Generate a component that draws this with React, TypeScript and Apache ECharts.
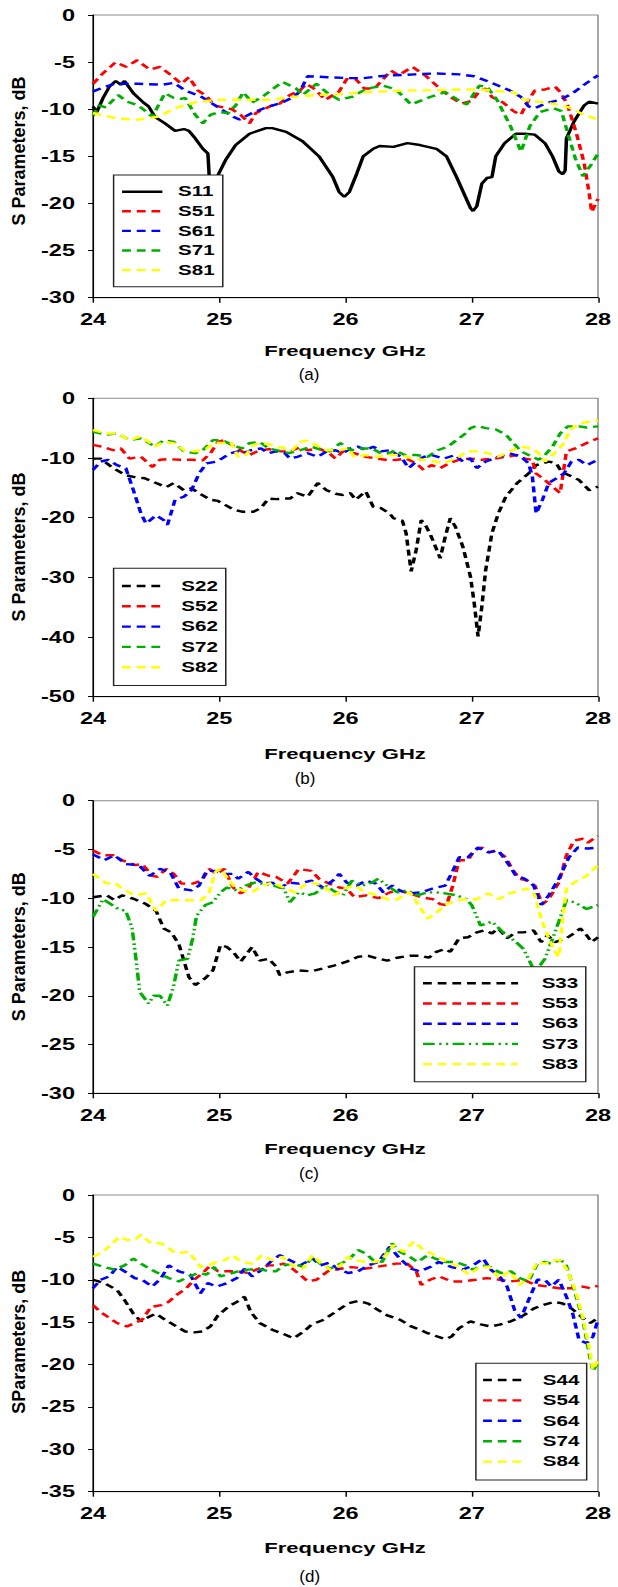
import React, { useEffect, useRef } from "react";
import * as echarts from "echarts";

type Pt = [number, number];

// ---------- DATA ----------
const freqTicks = [24, 25, 26, 27, 28];

// (a)
const s11: Pt[] = [[24.0,-9.7],[24.03,-10.3],[24.08,-8.8],[24.13,-7.6],[24.18,-7.0],[24.22,-7.4],[24.25,-7.0],[24.32,-8.3],[24.4,-9.3],[24.44,-9.7],[24.49,-10.8],[24.57,-11.5],[24.65,-12.3],[24.72,-12.1],[24.76,-12.3],[24.81,-13.1],[24.87,-14.2],[24.91,-14.7],[24.92,-17.0],[24.95,-19.0],[24.99,-17.0],[25.05,-15.4],[25.13,-13.8],[25.24,-12.6],[25.37,-12.0],[25.42,-12.0],[25.53,-12.4],[25.66,-13.4],[25.79,-15.0],[25.9,-17.2],[25.95,-18.8],[25.99,-19.3],[26.03,-18.8],[26.09,-16.8],[26.14,-15.0],[26.22,-14.2],[26.27,-13.9],[26.38,-14.0],[26.49,-13.6],[26.59,-13.8],[26.72,-14.2],[26.8,-15.0],[26.88,-17.2],[26.95,-19.3],[26.99,-20.5],[27.01,-20.8],[27.04,-20.3],[27.08,-17.9],[27.12,-17.3],[27.16,-17.2],[27.19,-15.0],[27.26,-13.6],[27.35,-12.6],[27.42,-12.6],[27.5,-12.7],[27.58,-13.6],[27.64,-15.0],[27.69,-16.6],[27.72,-16.9],[27.74,-16.5],[27.75,-13.1],[27.81,-11.3],[27.89,-9.6],[27.93,-9.2],[28.0,-9.4]];
const s51: Pt[] = [[24.0,-7.3],[24.07,-6.3],[24.18,-5.0],[24.26,-5.5],[24.35,-4.8],[24.45,-5.8],[24.53,-5.5],[24.62,-6.4],[24.7,-7.3],[24.76,-6.6],[24.83,-8.0],[24.9,-8.6],[24.96,-9.6],[25.03,-9.8],[25.1,-10.0],[25.17,-10.6],[25.24,-11.5],[25.29,-10.4],[25.4,-9.7],[25.48,-9.4],[25.56,-8.5],[25.64,-8.0],[25.69,-7.3],[25.76,-7.9],[25.84,-9.0],[25.95,-8.1],[26.01,-6.8],[26.08,-6.8],[26.15,-7.8],[26.23,-7.8],[26.36,-5.9],[26.42,-6.4],[26.53,-5.5],[26.64,-6.5],[26.73,-7.6],[26.83,-8.7],[26.92,-9.4],[27.0,-9.1],[27.06,-8.1],[27.11,-7.8],[27.16,-8.7],[27.25,-9.3],[27.33,-10.2],[27.39,-10.6],[27.45,-9.0],[27.5,-8.0],[27.58,-7.9],[27.66,-7.6],[27.71,-8.3],[27.76,-9.6],[27.83,-12.6],[27.89,-15.7],[27.93,-18.9],[27.95,-20.9],[28.0,-19.5]];
const s61: Pt[] = [[24.0,-8.1],[24.08,-7.7],[24.17,-7.3],[24.36,-7.3],[24.55,-7.4],[24.64,-7.2],[24.73,-8.0],[24.86,-8.7],[24.98,-9.7],[25.11,-10.8],[25.16,-11.1],[25.26,-10.4],[25.39,-9.7],[25.48,-9.4],[25.59,-8.7],[25.64,-8.1],[25.7,-6.5],[25.86,-6.6],[26.02,-6.7],[26.14,-6.7],[26.27,-6.5],[26.39,-6.4],[26.55,-6.3],[26.71,-6.2],[26.9,-6.3],[27.02,-6.5],[27.14,-7.1],[27.3,-8.0],[27.39,-8.7],[27.45,-9.7],[27.5,-9.9],[27.58,-9.4],[27.7,-9.0],[27.8,-8.3],[27.89,-7.4],[28.0,-6.4]];
const s71: Pt[] = [[24.0,-10.7],[24.05,-9.6],[24.1,-9.8],[24.2,-8.5],[24.27,-9.2],[24.36,-9.6],[24.47,-10.8],[24.57,-8.3],[24.64,-8.8],[24.7,-8.9],[24.73,-8.8],[24.81,-10.6],[24.87,-11.5],[24.93,-10.6],[25.0,-10.3],[25.07,-10.4],[25.13,-9.6],[25.19,-8.2],[25.26,-9.3],[25.35,-8.6],[25.5,-7.1],[25.61,-7.8],[25.66,-8.5],[25.77,-7.3],[25.86,-8.3],[25.95,-9.0],[26.05,-8.7],[26.17,-7.8],[26.3,-7.5],[26.4,-7.9],[26.52,-9.5],[26.67,-8.7],[26.79,-8.2],[26.89,-9.0],[26.96,-9.5],[27.06,-7.5],[27.12,-7.6],[27.2,-9.0],[27.31,-11.9],[27.39,-14.5],[27.46,-11.8],[27.54,-10.3],[27.65,-9.9],[27.71,-10.2],[27.76,-12.5],[27.82,-15.2],[27.88,-17.1],[27.94,-16.0],[28.0,-14.7]];
const s81: Pt[] = [[24.0,-10.4],[24.2,-11.0],[24.36,-11.1],[24.51,-10.8],[24.67,-9.8],[24.83,-9.2],[25.01,-9.0],[25.2,-9.0],[25.39,-9.0],[25.58,-8.7],[25.76,-8.5],[25.95,-8.4],[26.14,-8.2],[26.33,-8.1],[26.51,-8.0],[26.7,-8.0],[26.89,-7.9],[27.08,-7.9],[27.24,-8.1],[27.33,-8.2],[27.42,-9.0],[27.52,-9.2],[27.64,-9.4],[27.77,-9.8],[27.89,-10.6],[28.0,-11.1]];

// (b)
const s22: Pt[] = [[24,-10.1],[24.06,-10.1],[24.16,-11.7],[24.26,-12.9],[24.33,-13.2],[24.41,-13.4],[24.5,-14.2],[24.58,-14.9],[24.64,-14.2],[24.72,-15.4],[24.78,-15.1],[24.84,-15.9],[24.93,-17.0],[24.99,-17.2],[25.05,-17.9],[25.12,-18.7],[25.18,-19.0],[25.27,-19.0],[25.33,-18.4],[25.39,-16.8],[25.45,-16.9],[25.52,-16.8],[25.56,-16.8],[25.62,-15.9],[25.7,-16.5],[25.78,-14.2],[25.85,-15.4],[25.92,-16.0],[25.98,-16.2],[26.04,-15.9],[26.08,-17.0],[26.16,-15.6],[26.22,-18.2],[26.28,-18.4],[26.35,-19.3],[26.38,-20.1],[26.45,-20.5],[26.48,-22.6],[26.52,-29.0],[26.56,-25.4],[26.6,-20.4],[26.64,-21.5],[26.68,-23.2],[26.75,-26.8],[26.79,-23.2],[26.83,-20.1],[26.87,-21.5],[26.93,-24.9],[26.99,-29.9],[27.02,-34.4],[27.05,-39.9],[27.08,-34.9],[27.11,-28.8],[27.16,-22.6],[27.21,-19.3],[27.27,-16.5],[27.36,-14.2],[27.45,-12.6],[27.51,-11.2],[27.61,-10.6],[27.67,-10.9],[27.71,-12.3],[27.79,-13.1],[27.85,-13.7],[27.93,-15.4],[28,-14.8]];
const s52: Pt[] = [[24,-7.8],[24.07,-8.1],[24.16,-8.7],[24.22,-8.4],[24.29,-10.1],[24.38,-9.8],[24.47,-11.5],[24.53,-10.3],[24.59,-10.2],[24.69,-10.3],[24.78,-10.3],[24.87,-10.4],[24.93,-9.2],[24.99,-7.3],[25.04,-7.0],[25.12,-8.1],[25.18,-8.9],[25.24,-9.5],[25.3,-8.9],[25.39,-8.5],[25.49,-8.9],[25.56,-8.9],[25.64,-8.2],[25.7,-8.7],[25.79,-8.4],[25.87,-9.2],[25.92,-10.1],[25.98,-8.9],[26.07,-9.2],[26.16,-9.8],[26.25,-10.1],[26.35,-10.4],[26.41,-10.3],[26.48,-10.1],[26.56,-10.9],[26.62,-12.0],[26.68,-11.2],[26.75,-11.7],[26.82,-10.9],[26.9,-10.3],[26.99,-10.1],[27.08,-10.3],[27.18,-10.1],[27.27,-9.8],[27.36,-9.5],[27.42,-10.1],[27.48,-10.3],[27.51,-12.6],[27.58,-13.7],[27.64,-14.8],[27.7,-15.9],[27.75,-8.9],[27.82,-8.4],[27.91,-7.5],[28,-6.7]];
const s62: Pt[] = [[24,-12.0],[24.06,-10.6],[24.12,-10.3],[24.19,-11.2],[24.26,-11.7],[24.32,-15.4],[24.38,-19.3],[24.42,-21.0],[24.5,-19.6],[24.56,-20.4],[24.59,-21.2],[24.65,-17.0],[24.72,-16.5],[24.78,-15.4],[24.84,-12.6],[24.9,-10.9],[24.98,-10.6],[25.02,-10.1],[25.09,-9.2],[25.15,-8.9],[25.19,-9.2],[25.25,-8.7],[25.33,-8.4],[25.39,-9.2],[25.45,-8.9],[25.52,-9.2],[25.56,-10.1],[25.62,-9.8],[25.7,-9.2],[25.78,-9.8],[25.85,-8.9],[25.92,-8.7],[25.98,-9.2],[26.04,-8.4],[26.1,-8.1],[26.16,-8.7],[26.22,-8.1],[26.28,-8.9],[26.35,-8.7],[26.44,-9.8],[26.5,-11.7],[26.56,-10.6],[26.62,-9.8],[26.68,-9.5],[26.78,-10.1],[26.87,-9.5],[26.93,-10.6],[26.99,-10.1],[27.04,-11.7],[27.11,-10.6],[27.21,-9.8],[27.3,-9.2],[27.39,-9.8],[27.45,-10.9],[27.48,-13.1],[27.51,-19.3],[27.56,-17.0],[27.61,-14.2],[27.67,-13.4],[27.73,-12.6],[27.79,-10.6],[27.85,-10.3],[27.91,-11.2],[28,-10.3]];
const s72: Pt[] = [[24,-5.6],[24.1,-6.1],[24.19,-5.9],[24.29,-7.0],[24.38,-6.7],[24.49,-8.1],[24.56,-7.0],[24.64,-7.3],[24.72,-8.9],[24.81,-9.2],[24.87,-8.7],[24.95,-7.0],[25.02,-7.0],[25.1,-7.8],[25.18,-8.4],[25.24,-7.5],[25.32,-7.3],[25.39,-8.4],[25.49,-8.9],[25.55,-9.2],[25.64,-8.7],[25.73,-8.1],[25.82,-8.7],[25.88,-8.9],[25.96,-7.5],[26.04,-8.7],[26.12,-8.4],[26.21,-8.4],[26.28,-9.2],[26.35,-9.2],[26.39,-8.7],[26.47,-9.5],[26.56,-9.5],[26.65,-9.8],[26.73,-8.7],[26.81,-8.1],[26.88,-7.0],[26.95,-5.9],[26.99,-5.0],[27.04,-4.6],[27.11,-5.0],[27.19,-5.2],[27.27,-6.1],[27.33,-7.5],[27.39,-8.9],[27.45,-9.5],[27.53,-10.3],[27.58,-9.5],[27.64,-8.1],[27.7,-5.9],[27.76,-4.7],[27.85,-4.7],[27.91,-4.9],[28,-4.7]];
const s82: Pt[] = [[24,-5.3],[24.1,-5.9],[24.19,-5.9],[24.29,-7.0],[24.38,-6.4],[24.49,-8.1],[24.56,-7.3],[24.64,-7.5],[24.72,-8.7],[24.81,-8.9],[24.9,-8.4],[24.96,-7.5],[25.02,-7.5],[25.09,-7.3],[25.15,-9.8],[25.21,-9.5],[25.27,-7.8],[25.33,-7.5],[25.42,-7.8],[25.52,-8.4],[25.58,-8.7],[25.64,-7.3],[25.7,-7.1],[25.76,-7.8],[25.85,-8.7],[25.95,-8.7],[26.02,-8.4],[26.07,-9.8],[26.16,-9.5],[26.25,-9.8],[26.35,-9.5],[26.44,-9.5],[26.53,-10.1],[26.62,-10.3],[26.71,-10.6],[26.78,-10.9],[26.84,-10.3],[26.9,-9.8],[26.96,-8.9],[27.04,-8.9],[27.13,-9.2],[27.21,-9.8],[27.3,-8.9],[27.39,-8.1],[27.48,-8.4],[27.53,-9.2],[27.58,-10.6],[27.64,-9.5],[27.72,-7.8],[27.78,-5.3],[27.85,-4.2],[27.94,-3.9],[28,-3.7]];

// (c)
const s33: Pt[] = [[24,-9.9],[24.11,-9.7],[24.17,-10.2],[24.23,-9.7],[24.33,-10.1],[24.42,-10.6],[24.5,-11.3],[24.56,-13.1],[24.62,-13.5],[24.68,-14.7],[24.76,-18.1],[24.81,-18.9],[24.89,-18.2],[24.95,-17.4],[25.01,-14.8],[25.06,-15.0],[25.11,-15.5],[25.17,-16.5],[25.23,-15.5],[25.26,-15.0],[25.32,-16.4],[25.39,-16.2],[25.45,-17.0],[25.48,-17.9],[25.54,-17.6],[25.63,-17.4],[25.73,-17.5],[25.82,-17.2],[25.91,-16.9],[26.01,-16.5],[26.1,-16.0],[26.18,-15.9],[26.26,-16.2],[26.33,-16.4],[26.41,-16.1],[26.51,-15.9],[26.6,-15.9],[26.66,-16.1],[26.72,-15.5],[26.79,-15.2],[26.83,-15.5],[26.9,-14.1],[26.97,-14.0],[27.04,-13.5],[27.1,-13.3],[27.16,-13.6],[27.21,-13.1],[27.28,-14.1],[27.35,-13.5],[27.41,-13.5],[27.49,-13.3],[27.55,-14.5],[27.6,-13.8],[27.66,-14.5],[27.75,-14.1],[27.81,-13.6],[27.86,-13.1],[27.91,-13.8],[27.95,-14.5],[28,-14.0]];
const s53: Pt[] = [[24,-5.1],[24.08,-5.6],[24.16,-5.6],[24.23,-6.1],[24.33,-6.6],[24.39,-6.5],[24.47,-7.7],[24.51,-7.8],[24.58,-7.0],[24.64,-7.5],[24.7,-8.5],[24.79,-8.5],[24.86,-8.2],[24.92,-7.0],[24.98,-7.5],[25.04,-7.0],[25.11,-8.9],[25.17,-9.5],[25.23,-9.0],[25.31,-7.3],[25.39,-7.7],[25.45,-7.8],[25.54,-8.5],[25.59,-7.7],[25.63,-7.0],[25.73,-7.2],[25.79,-8.0],[25.87,-8.5],[25.95,-8.9],[26.01,-9.0],[26.07,-9.9],[26.16,-9.7],[26.26,-10.0],[26.35,-9.4],[26.41,-9.2],[26.51,-9.5],[26.6,-9.9],[26.69,-10.1],[26.75,-10.6],[26.8,-10.7],[26.85,-8.7],[26.9,-6.1],[26.97,-6.1],[27.02,-5.1],[27.08,-4.8],[27.14,-5.3],[27.19,-5.1],[27.27,-5.8],[27.32,-7.0],[27.38,-8.0],[27.44,-8.2],[27.5,-8.7],[27.56,-10.6],[27.61,-10.1],[27.69,-8.4],[27.75,-5.6],[27.81,-4.1],[27.88,-3.9],[27.92,-4.3],[28,-3.6]];
const s63: Pt[] = [[24,-5.5],[24.09,-6.1],[24.17,-5.6],[24.26,-6.5],[24.36,-6.6],[24.45,-7.7],[24.53,-7.0],[24.61,-7.3],[24.68,-9.0],[24.78,-9.2],[24.84,-8.7],[24.9,-7.2],[24.96,-7.2],[25.04,-7.5],[25.11,-7.5],[25.15,-8.0],[25.23,-7.3],[25.29,-8.0],[25.35,-8.5],[25.42,-8.4],[25.48,-8.9],[25.56,-8.4],[25.63,-8.5],[25.73,-8.2],[25.82,-8.9],[25.9,-8.2],[25.95,-7.5],[26.01,-8.4],[26.09,-8.7],[26.16,-8.2],[26.24,-8.5],[26.3,-9.4],[26.37,-8.7],[26.43,-9.2],[26.51,-9.5],[26.6,-9.4],[26.69,-9.0],[26.79,-8.7],[26.85,-7.2],[26.9,-5.8],[26.97,-5.8],[27.05,-4.8],[27.13,-5.3],[27.21,-5.1],[27.28,-6.3],[27.35,-7.7],[27.42,-8.0],[27.49,-8.7],[27.55,-10.7],[27.61,-9.7],[27.69,-8.0],[27.77,-5.8],[27.84,-4.8],[27.92,-4.9],[28,-4.8]];
const s73: Pt[] = [[24,-11.9],[24.08,-10.1],[24.2,-11.1],[24.26,-11.3],[24.31,-13.1],[24.34,-16.2],[24.37,-19.6],[24.44,-20.8],[24.48,-20.0],[24.53,-20.0],[24.59,-21.0],[24.64,-18.9],[24.68,-16.4],[24.75,-16.2],[24.79,-14.1],[24.82,-11.8],[24.89,-10.7],[24.95,-10.4],[25.01,-9.4],[25.06,-8.9],[25.14,-9.2],[25.21,-8.7],[25.28,-8.4],[25.35,-8.5],[25.43,-8.7],[25.51,-9.0],[25.56,-10.4],[25.63,-9.4],[25.7,-9.7],[25.76,-9.5],[25.84,-8.7],[25.9,-9.2],[25.98,-9.7],[26.05,-8.2],[26.13,-8.7],[26.21,-8.4],[26.26,-8.0],[26.33,-8.7],[26.41,-9.4],[26.49,-9.2],[26.57,-9.7],[26.65,-9.4],[26.72,-9.4],[26.79,-9.5],[26.88,-9.7],[26.96,-10.1],[27.0,-10.7],[27.07,-12.8],[27.16,-12.4],[27.25,-13.5],[27.35,-14.5],[27.41,-15.2],[27.46,-16.5],[27.5,-17.6],[27.58,-16.2],[27.63,-14.5],[27.69,-12.4],[27.75,-10.2],[27.81,-10.4],[27.91,-11.1],[28,-10.7]];
const s83: Pt[] = [[24,-7.5],[24.11,-8.5],[24.17,-8.4],[24.23,-9.0],[24.33,-9.7],[24.42,-9.5],[24.5,-11.3],[24.58,-10.2],[24.67,-10.2],[24.76,-10.2],[24.86,-10.2],[24.92,-9.4],[24.97,-7.3],[25.01,-7.0],[25.11,-8.7],[25.18,-9.2],[25.26,-9.4],[25.34,-8.7],[25.42,-8.4],[25.51,-8.9],[25.6,-9.4],[25.67,-8.7],[25.73,-8.4],[25.82,-8.7],[25.91,-9.7],[25.99,-9.0],[26.07,-8.7],[26.16,-9.4],[26.26,-9.7],[26.35,-10.2],[26.41,-10.1],[26.51,-9.4],[26.58,-10.7],[26.65,-12.1],[26.71,-11.6],[26.79,-10.7],[26.88,-10.2],[26.97,-10.1],[27.04,-10.1],[27.13,-9.5],[27.21,-10.1],[27.3,-9.5],[27.44,-9.0],[27.5,-9.7],[27.55,-12.1],[27.6,-13.8],[27.66,-15.5],[27.69,-16.0],[27.72,-12.1],[27.75,-9.0],[27.81,-8.4],[27.91,-7.7],[28,-6.6]];

// (d)
const s44: Pt[] = [[24,-10.0],[24.09,-10.4],[24.19,-11.2],[24.25,-12.4],[24.32,-14.0],[24.38,-14.9],[24.44,-14.4],[24.5,-14.0],[24.57,-14.7],[24.66,-15.5],[24.73,-16.1],[24.8,-16.2],[24.87,-16.1],[24.93,-15.5],[24.99,-14.2],[25.07,-13.2],[25.14,-12.6],[25.2,-12.0],[25.25,-13.8],[25.32,-15.1],[25.42,-15.9],[25.51,-16.4],[25.59,-16.9],[25.67,-16.1],[25.73,-15.3],[25.83,-14.7],[25.92,-13.8],[26.02,-12.8],[26.1,-12.5],[26.18,-12.8],[26.24,-13.4],[26.33,-14.2],[26.43,-14.7],[26.52,-15.5],[26.59,-15.9],[26.65,-16.3],[26.71,-16.6],[26.79,-17.0],[26.84,-16.7],[26.9,-15.7],[26.99,-14.9],[27.08,-15.3],[27.15,-15.5],[27.22,-15.3],[27.31,-14.9],[27.41,-14.2],[27.49,-13.4],[27.56,-13.0],[27.66,-12.6],[27.72,-12.8],[27.79,-13.4],[27.88,-14.5],[27.94,-15.1],[28,-14.5]];
const s54: Pt[] = [[24,-13.0],[24.06,-13.8],[24.13,-14.5],[24.19,-15.1],[24.27,-15.5],[24.33,-15.1],[24.39,-14.7],[24.46,-13.2],[24.54,-13.0],[24.6,-12.6],[24.66,-11.8],[24.74,-11.0],[24.8,-10.0],[24.87,-9.2],[24.93,-8.3],[24.99,-9.0],[25.07,-9.0],[25.15,-9.0],[25.23,-9.2],[25.31,-8.7],[25.39,-8.3],[25.45,-8.3],[25.51,-8.1],[25.58,-8.7],[25.64,-9.4],[25.7,-10.2],[25.77,-10.0],[25.86,-9.0],[25.96,-8.7],[26.05,-8.5],[26.15,-8.7],[26.24,-8.5],[26.32,-8.3],[26.4,-8.1],[26.49,-8.1],[26.56,-9.0],[26.6,-10.6],[26.67,-10.0],[26.74,-9.6],[26.84,-10.2],[26.93,-10.2],[27.03,-10.0],[27.12,-9.8],[27.22,-10.0],[27.31,-10.2],[27.41,-10.0],[27.5,-10.6],[27.6,-10.8],[27.69,-11.0],[27.79,-11.0],[27.88,-10.8],[27.94,-11.0],[28,-10.7]];
const s64: Pt[] = [[24,-11.0],[24.06,-10.0],[24.13,-9.6],[24.19,-8.5],[24.25,-9.0],[24.33,-9.8],[24.39,-10.0],[24.47,-10.8],[24.54,-9.8],[24.6,-8.3],[24.68,-9.0],[24.77,-9.4],[24.85,-11.6],[24.91,-10.4],[24.98,-10.8],[25.06,-10.4],[25.14,-9.8],[25.2,-8.7],[25.26,-9.6],[25.34,-8.8],[25.42,-7.7],[25.48,-7.1],[25.56,-7.7],[25.64,-8.3],[25.74,-7.5],[25.8,-8.3],[25.87,-8.0],[25.94,-8.7],[26.02,-9.2],[26.1,-9.0],[26.18,-8.3],[26.26,-7.9],[26.35,-6.1],[26.43,-7.5],[26.52,-8.7],[26.59,-9.0],[26.67,-8.5],[26.74,-7.9],[26.84,-8.5],[26.93,-8.8],[27.01,-8.3],[27.09,-7.5],[27.15,-8.8],[27.22,-9.6],[27.28,-10.8],[27.34,-13.6],[27.39,-14.5],[27.45,-12.4],[27.52,-10.0],[27.58,-10.0],[27.63,-10.8],[27.69,-10.0],[27.75,-12.0],[27.8,-14.0],[27.85,-17.1],[27.91,-17.5],[27.96,-16.7],[28,-14.7]];
const s74: Pt[] = [[24,-8.1],[24.09,-8.5],[24.17,-8.8],[24.25,-8.3],[24.32,-7.5],[24.38,-8.1],[24.46,-8.8],[24.54,-9.4],[24.6,-9.8],[24.68,-10.2],[24.76,-9.6],[24.84,-9.2],[24.9,-9.4],[24.96,-8.5],[25.01,-9.6],[25.08,-9.3],[25.15,-9.0],[25.23,-8.8],[25.31,-8.7],[25.39,-9.0],[25.45,-9.0],[25.51,-8.3],[25.59,-8.1],[25.67,-8.5],[25.74,-7.3],[25.8,-8.1],[25.88,-8.7],[25.96,-8.1],[26.02,-7.7],[26.1,-6.5],[26.16,-6.9],[26.22,-7.7],[26.29,-7.9],[26.37,-5.7],[26.43,-6.7],[26.51,-7.3],[26.57,-7.9],[26.65,-7.1],[26.71,-7.5],[26.79,-7.9],[26.87,-7.9],[26.95,-8.3],[27.01,-8.8],[27.09,-8.3],[27.15,-8.5],[27.23,-9.2],[27.31,-9.0],[27.38,-9.8],[27.45,-10.2],[27.52,-8.1],[27.58,-7.9],[27.63,-8.1],[27.69,-7.7],[27.74,-7.9],[27.82,-11.6],[27.88,-14.7],[27.93,-18.7],[27.96,-20.8],[28,-19.7]];
const s84: Pt[] = [[24,-7.3],[24.08,-6.7],[24.14,-5.9],[24.21,-4.9],[24.27,-5.3],[24.33,-5.3],[24.38,-4.7],[24.46,-5.7],[24.54,-5.7],[24.6,-6.3],[24.66,-6.9],[24.76,-6.7],[24.85,-8.5],[24.91,-8.3],[24.98,-7.9],[25.04,-7.7],[25.1,-7.1],[25.18,-7.9],[25.26,-8.1],[25.34,-7.1],[25.42,-7.7],[25.5,-7.3],[25.58,-8.3],[25.66,-8.7],[25.74,-7.1],[25.81,-8.1],[25.88,-8.8],[25.96,-8.3],[26.02,-7.3],[26.08,-7.7],[26.16,-7.9],[26.24,-7.9],[26.32,-7.1],[26.38,-5.9],[26.46,-6.7],[26.54,-5.5],[26.62,-6.5],[26.71,-7.1],[26.81,-7.9],[26.9,-8.5],[26.98,-9.4],[27.06,-8.5],[27.14,-8.5],[27.22,-9.8],[27.3,-9.0],[27.38,-10.6],[27.45,-9.8],[27.52,-7.9],[27.58,-8.1],[27.64,-7.7],[27.7,-7.7],[27.75,-8.7],[27.82,-11.2],[27.88,-14.4],[27.93,-17.9],[27.96,-20.6],[28,-19.5]];

// ---------- LAYOUT ----------
const SX = 1.47; // the reference is stretched horizontally
const CW = 618 / SX;
const CH = 1587;
const px = (x: number) => x / SX;
const FONT = '"Liberation Sans", Arial, sans-serif';

const BLACK = "#000000";
const RED = "#ff0000";
const BLUE = "#0000ff";
const GREEN = "#00b000";
const YELLOW = "#ffff00";
const DASH = [6, 4];
const DASH_DOT_DOT = [8, 3, 1.6, 3, 1.6, 3];

type SeriesDef = { name: string; data: Pt[]; color: string; dash: any };
type Panel = {
  top: number; height: number; yMin: number; yInterval: number;
  yTitle: string; yTitleY: number; xTitleY: number; tag: string; tagY: number; tagX: number;
  series: SeriesDef[];
  legend: { left: number; top: number; padding: number[]; gap: number; itemWidth: number; textGap: number };
};

const panels: Panel[] = [
  {
    top: 15, height: 282.7, yMin: -30, yInterval: 5,
    yTitle: "S Parameters, dB", yTitleY: 151, xTitleY: 351, tag: "(a)", tagY: 374, tagX: 309,
    series: [
      { name: "S11", data: s11, color: BLACK, dash: "solid" },
      { name: "S51", data: s51, color: RED, dash: DASH },
      { name: "S61", data: s61, color: BLUE, dash: DASH },
      { name: "S71", data: s71, color: GREEN, dash: DASH },
      { name: "S81", data: s81, color: YELLOW, dash: DASH },
    ],
    legend: { left: 113.6, top: 175, padding: [9.7, 8.1, 9.7, 6.7], gap: 5.6, itemWidth: 40.3, textGap: 15.7 },
  },
  {
    top: 398.3, height: 298.4, yMin: -50, yInterval: 10,
    yTitle: "S Parameters, dB", yTitleY: 547, xTitleY: 754, tag: "(b)", tagY: 778, tagX: 305,
    series: [
      { name: "S22", data: s22, color: BLACK, dash: DASH },
      { name: "S52", data: s52, color: RED, dash: DASH },
      { name: "S62", data: s62, color: BLUE, dash: DASH },
      { name: "S72", data: s72, color: GREEN, dash: DASH },
      { name: "S82", data: s82, color: YELLOW, dash: DASH },
    ],
    legend: { left: 113.6, top: 568.3, padding: [10.7, 7.9, 11.4, 6.6], gap: 6.3, itemWidth: 40.7, textGap: 18.6 },
  },
  {
    top: 800.7, height: 292.6, yMin: -30, yInterval: 5,
    yTitle: "S Parameters, dB", yTitleY: 946.7, xTitleY: 1149, tag: "(c)", tagY: 1173, tagX: 309,
    series: [
      { name: "S33", data: s33, color: BLACK, dash: DASH },
      { name: "S53", data: s53, color: RED, dash: DASH },
      { name: "S63", data: s63, color: BLUE, dash: DASH },
      { name: "S73", data: s73, color: GREEN, dash: DASH_DOT_DOT },
      { name: "S83", data: s83, color: YELLOW, dash: DASH },
    ],
    legend: { left: 414.5, top: 966.7, padding: [9.6, 7.5, 10.7, 6.7], gap: 6.2, itemWidth: 95.1, textGap: 23.6 },
  },
  {
    top: 1195, height: 296.7, yMin: -35, yInterval: 5,
    yTitle: "SParameters, dB", yTitleY: 1341.7, xTitleY: 1548.3, tag: "(d)", tagY: 1576.7, tagX: 309.7,
    series: [
      { name: "S44", data: s44, color: BLACK, dash: DASH },
      { name: "S54", data: s54, color: RED, dash: DASH },
      { name: "S64", data: s64, color: BLUE, dash: DASH },
      { name: "S74", data: s74, color: GREEN, dash: DASH },
      { name: "S84", data: s84, color: YELLOW, dash: DASH },
    ],
    legend: { left: 475.9, top: 1363.3, padding: [9.7, 7.3, 11.3, 5.4], gap: 6.4, itemWidth: 43, textGap: 16.7 },
  },
];

const PLOT_LEFT = 93;
const PLOT_RIGHT = 598;

function buildOption(): any {
  const grid: any[] = [];
  const xAxis: any[] = [];
  const yAxis: any[] = [];
  const series: any[] = [];
  const legend: any[] = [];
  const graphic: any[] = [];

  panels.forEach((p, i) => {
    grid.push({
      left: px(PLOT_LEFT), width: px(PLOT_RIGHT - PLOT_LEFT), top: p.top, height: p.height,
      show: true, borderColor: "#8a8a8a", borderWidth: 1, backgroundColor: "transparent",
    });
    xAxis.push({
      type: "value", gridIndex: i, min: freqTicks[0], max: freqTicks[freqTicks.length - 1], interval: 1,
      axisLine: { show: true, onZero: false, lineStyle: { color: "#000", width: 1 } },
      axisTick: { show: true, length: 5, lineStyle: { color: "#000", width: 1 } },
      axisLabel: { fontSize: 16, fontWeight: "bold", fontFamily: FONT, color: "#000", margin: 14 },
      splitLine: { show: false },
    });
    yAxis.push({
      type: "value", gridIndex: i, min: p.yMin, max: 0, interval: p.yInterval,
      axisLine: { show: true, onZero: false, lineStyle: { color: "#000", width: 1 } },
      axisTick: { show: true, length: px(5), lineStyle: { color: "#000", width: 1 } },
      axisLabel: { fontSize: 16, fontWeight: "bold", fontFamily: FONT, color: "#000", margin: px(18) },
      splitLine: { show: false },
    });
    p.series.forEach((s) => {
      series.push({
        type: "line", name: s.name, xAxisIndex: i, yAxisIndex: i, data: s.data,
        symbol: "none", showSymbol: false, smooth: false, clip: true,
        lineStyle: { color: s.color, width: 2.4, type: s.dash },
        itemStyle: { color: s.color },
        emphasis: { disabled: true },
      });
    });
    const L = p.legend;
    legend.push({
      data: p.series.map((s) => s.name),
      orient: "vertical",
      left: px(L.left), top: L.top,
      padding: [L.padding[0], L.padding[1], L.padding[2], L.padding[3]].map((v, k) => (k % 2 === 1 ? px(v) : v)),
      itemGap: L.gap, itemWidth: px(L.itemWidth), itemHeight: 14,
      borderColor: "#222", borderWidth: 1, backgroundColor: "#ffffff",
      selectedMode: false,
      lineStyle: { width: 2.4 },
      itemStyle: { color: "rgba(0,0,0,0)", borderColor: "rgba(0,0,0,0)", borderWidth: 0, opacity: 0 },
      textStyle: {
        fontSize: 14, fontWeight: "bold", fontFamily: FONT, color: "#000", lineHeight: 14,
        padding: [0, 0, 0, Math.max(0, px(L.textGap) - 5)],
      },
      z: 10,
    });
    graphic.push({
      type: "text", x: px(19), y: p.yTitleY, rotation: Math.PI / 2, scaleY: 1 / SX,
      style: { text: p.yTitle, font: `bold 18px ${FONT}`, fill: "#000", align: "center", verticalAlign: "middle", textAlign: "center", textVerticalAlign: "middle" },
    });
    graphic.push({
      type: "text", x: px(345), y: p.xTitleY,
      style: { text: "Frequency GHz", font: `bold 15px ${FONT}`, fill: "#000", align: "center", verticalAlign: "middle", textAlign: "center", textVerticalAlign: "middle" },
    });
    graphic.push({
      type: "text", x: px(p.tagX), y: p.tagY, scaleX: 1 / SX,
      style: { text: p.tag, font: `normal 17px ${FONT}`, fill: "#000", align: "center", verticalAlign: "middle", textAlign: "center", textVerticalAlign: "middle" },
    });
  });

  return {
    animation: false,
    backgroundColor: "#ffffff",
    textStyle: { fontFamily: FONT },
    grid, xAxis, yAxis, series, legend, graphic,
  };
}

export default function App() {
  const ref = useRef<HTMLDivElement>(null);
  useEffect(() => {
    if (!ref.current) return;
    const chart = echarts.init(ref.current, undefined, { renderer: "svg" });
    chart.setOption(buildOption());
    return () => chart.dispose();
  }, []);
  return (
    <div
      ref={ref}
      style={{
        position: "fixed", left: 0, top: 0, width: CW, height: CH,
        transform: `scaleX(${SX})`, transformOrigin: "0 0", background: "#fff",
      }}
    />
  );
}
